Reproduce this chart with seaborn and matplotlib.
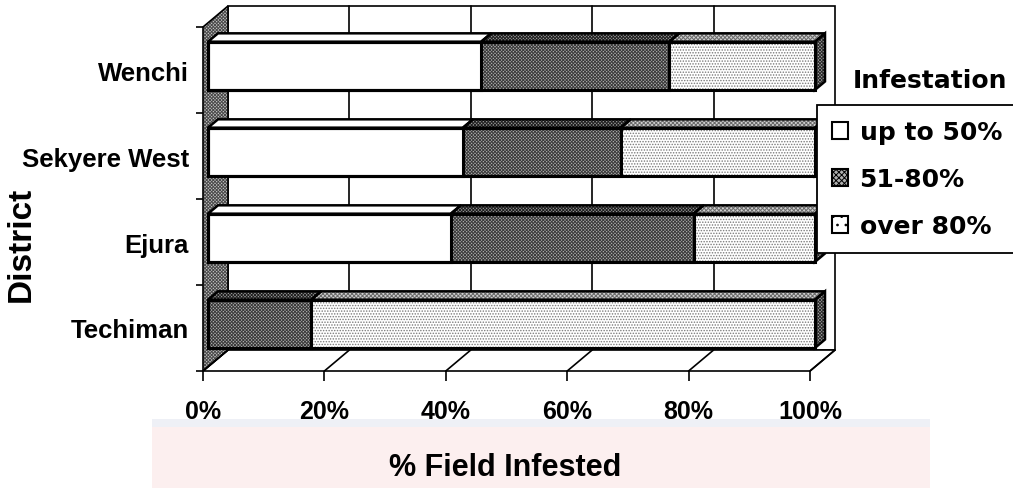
import numpy as np
import pandas as pd
import matplotlib
matplotlib.use("Agg")
import matplotlib.pyplot as plt
import seaborn as sns
from matplotlib.patches import Polygon, Rectangle, Patch
from matplotlib.lines import Line2D
from matplotlib.transforms import IdentityTransform, ScaledTranslation

# ---- data -------------------------------------------------------------
districts = ["Wenchi", "Sekyere West", "Ejura", "Techiman"]
up_to_50 = [45, 42, 40, 0]
from_51_80 = [31, 26, 40, 17]
over_80 = [24, 32, 20, 83]
classes = ["up to 50%", "51-80%", "over 80%"]
x_ticks = [0, 20, 40, 60, 80, 100]
x_ticklabels = ["0%", "20%", "40%", "60%", "80%", "100%"]

df = pd.DataFrame({"District": districts,
                   "up to 50%": up_to_50,
                   "51-80%": from_51_80,
                   "over 80%": over_80})
cum = df[classes].cumsum(axis=1)

# ---- styles -----------------------------------------------------------
face = {"up to 50%": "white", "51-80%": "#b0b0b0", "over 80%": "white"}
hatch = {"up to 50%": None, "51-80%": "xxxxxxxxxx", "over 80%": "......"}
hcol = {"up to 50%": "white", "51-80%": "#3a3a3a", "over 80%": "#7a7a7a"}
top_face = {"up to 50%": ("white", None, "white"),
            "51-80%": ("#9a9a9a", "xxxxxxxxxx", "#202020"),
            "over 80%": ("#d0d0d0", "xxxxxxxx", "#6a6a6a")}
side_face = ("#a8a8a8", "xxxxxxxxxx", "#2a2a2a")

sns.set_theme(style="white")
ARIAL = ["Liberation Sans", "DejaVu Sans"]
plt.rcParams["font.family"] = ["DejaVu Sans"]
plt.rcParams["hatch.linewidth"] = 0.7
for k in ("text.color", "axes.labelcolor", "xtick.color", "ytick.color"):
    plt.rcParams[k] = "black"

W, H = 1013, 489
fig = plt.figure(figsize=(W / 100, H / 100), dpi=100)
fig.patch.set_facecolor("white")

# faint background band behind the axis title
fig.add_artist(Rectangle((152 / W, 0), (930 - 152) / W, (489 - 428) / H,
                         transform=fig.transFigure, fc="#fcefef", ec="none", zorder=-10))
fig.add_artist(Rectangle((152 / W, (489 - 428) / H), (930 - 152) / W, 8 / H,
                         transform=fig.transFigure, fc="#eef0f6", ec="none", zorder=-10))

# front plane of the 3-D box
ax = fig.add_axes([203 / W, 1 - 372 / H, 607 / W, 344 / H])
ax.patch.set_visible(False)

DEPTH = np.array([25.0, 21.0])   # pixel shift from front plane to back wall
F0, F1 = 0.2, 0.6                # depth span of the bars


def P(x, y, f):
    return ax.transData.transform((x, y)) + f * DEPTH


def poly(pts, fc, ht=None, hc="black", z=1, lw=1.2, ec="black"):
    fill = Polygon(pts, closed=True, fc=fc, ec=hc if ht else "none", lw=0,
                   hatch=ht, transform=IdentityTransform(), clip_on=False, zorder=z)
    ax.add_patch(fill)
    ax.add_patch(Polygon(pts, closed=True, fill=False, ec=ec, lw=lw,
                         transform=IdentityTransform(), clip_on=False, zorder=z + 0.01))


# stacked bars: draw cumulative totals, longest first
bar_patches = {}
for cls in reversed(classes):
    before = len(ax.patches)
    sns.barplot(x=cum[cls], y=df["District"], orient="h", color=face[cls],
                saturation=1, width=0.56, ax=ax)
    bar_patches[cls] = ax.patches[before:]

ax.set_xlim(0, 100)
ax.set_ylim(3.5, -0.5)

# walls and floor
poly([P(0, -0.5, 1), P(100, -0.5, 1), P(100, 3.5, 1), P(0, 3.5, 1)], "white", z=0.1)
for t in x_ticks[1:-1]:
    a, b = P(t, -0.5, 1), P(t, 3.5, 1)
    ax.add_line(Line2D([a[0], b[0]], [a[1], b[1]], color="black", lw=1.2,
                       transform=IdentityTransform(), clip_on=False, zorder=0.2))
poly([P(0, -0.5, 0), P(0, -0.5, 1), P(0, 3.5, 1), P(0, 3.5, 0)],
     "#c4c4c4", "xxxxxxxxxx", "#4a4a4a", z=0.3)
poly([P(0, 3.5, 0), P(100, 3.5, 0), P(100, 3.5, 1), P(0, 3.5, 1)], "white", z=0.3)
for t in x_ticks:
    a, b = P(t, 3.5, 0), P(t, 3.5, 1)
    ax.add_line(Line2D([a[0], b[0]], [a[1], b[1]], color="black", lw=1.2,
                       transform=IdentityTransform(), clip_on=False, zorder=0.4))

# front faces of the bars, shifted back into the box
shift = ax.transData + ScaledTranslation(F0 * DEPTH[0] / 100, F0 * DEPTH[1] / 100,
                                         fig.dpi_scale_trans)
for cls in classes:
    for p in bar_patches[cls]:
        p.set_facecolor(face[cls])
        p.set_hatch(hatch[cls])
        p.set_edgecolor(hcol[cls])
        p.set_linewidth(0)
        p.set_transform(shift)
        p.set_clip_on(False)
        p.set_zorder(2)
        if p.get_width() > 0:
            ax.add_patch(Rectangle((p.get_x(), p.get_y()), p.get_width(), p.get_height(),
                                   fill=False, ec="black", lw=2.2, transform=shift,
                                   clip_on=False, zorder=2.5))

# top and side faces
for i, p in enumerate(bar_patches["over 80%"]):
    yt, yb = p.get_y(), p.get_y() + p.get_height()
    edges = [0] + [cum.loc[i, c] for c in classes]
    for cls, x0, x1 in zip(classes, edges[:-1], edges[1:]):
        if x1 <= x0:
            continue
        fc, ht, hc = top_face[cls]
        poly([P(x0, yt, F0), P(x1, yt, F0), P(x1, yt, F1), P(x0, yt, F1)],
             fc, ht, hc, z=1.5, lw=1.8)
    xm = edges[-1]
    fc, ht, hc = side_face
    poly([P(xm, yt, F0), P(xm, yt, F1), P(xm, yb, F1), P(xm, yb, F0)],
         fc, ht, hc, z=1.5, lw=1.8)

# axes decoration
for s in ax.spines.values():
    s.set_visible(False)
ax.set_xticks(x_ticks, x_ticklabels)
ax.tick_params(axis="x", bottom=True, direction="out", length=7, width=1.2,
               color="black", pad=13)
for lab in ax.get_xticklabels():
    lab.set_fontfamily(ARIAL)
    lab.set_fontweight("bold")
    lab.set_fontsize(18)
ax.set_yticks(range(len(districts)), districts)
ax.set_yticks(np.arange(-0.5, len(districts)), minor=True)
ax.tick_params(axis="y", which="major", left=True, length=0, pad=10)
ax.tick_params(axis="y", which="minor", left=True, direction="out", length=5,
               width=1.2, color="black")
for lab in ax.get_yticklabels():
    lab.set_fontfamily(ARIAL)
    lab.set_fontweight("bold")
    lab.set_fontsize(18.5)
ax.set_xlabel("")
ax.set_ylabel("")

fig.text(21 / W, 1 - 244 / H, "District", rotation=90, ha="center", va="center",
         fontsize=24, fontweight="bold", family=ARIAL)
fig.text(505 / W, 1 - 468 / H, "% Field Infested", ha="center", va="center",
         fontsize=22, fontweight="bold", family=ARIAL)
fig.text(853 / W, 1 - 88 / H, "Infestation", ha="left", va="baseline",
         fontsize=18, fontweight="bold")

handles = [Patch(facecolor=face[c], hatch=(None if c == "up to 50%" else
                                           ("xxxxxx" if c == "51-80%" else "..")),
                 edgecolor="black", lw=1.5, label=c) for c in classes]
leg = fig.legend(handles=handles, loc="upper left",
                 bbox_to_anchor=(817 / W, 1 - 106 / H), bbox_transform=fig.transFigure,
                 borderaxespad=0, frameon=True, fancybox=False, framealpha=1,
                 edgecolor="black", handlelength=0.65, handleheight=0.7,
                 handletextpad=0.45, labelspacing=0.92, borderpad=0.6,
                 prop={"weight": "bold", "size": 18})
leg.get_frame().set_linewidth(1.3)

fig.savefig("out.png", dpi=100)
